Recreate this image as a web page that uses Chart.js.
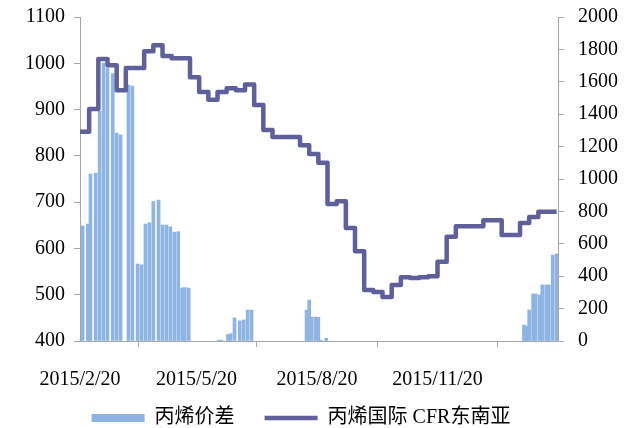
<!DOCTYPE html>
<html>
<head>
<meta charset="utf-8">
<script src="https://cdn.jsdelivr.net/npm/chart.js@4.4.0/dist/chart.umd.min.js"></script>
<style>
  html, body { margin: 0; padding: 0; background: #fff; }
  #chart { display: block; }
</style>
</head>
<body>
<canvas id="chart" width="638" height="428"></canvas>
<script>
// x axis: dates, ticks every 3 months
const startDate = '2015/2/20';
const xTickDates = ['2015/2/20', '2015/5/20', '2015/8/20', '2015/11/20', '2016/2/20'];
const xTickLabels = ['2015/2/20', '2015/5/20', '2015/8/20', '2015/11/20', ''];

// 丙烯国际 CFR东南亚, weekly from 2015/2/20 (left axis)
const lineName = '丙烯国际 CFR东南亚';
const lineValues = [852, 901, 1009, 996, 942, 990, 990, 1026, 1039, 1016, 1011, 1011,
  970, 938, 921, 938, 946, 942, 954, 910, 856, 841, 841, 841, 823, 804, 785,
  696, 702, 644, 594, 510, 506, 495, 521, 538, 536, 538, 540, 571, 625,
  648, 648, 648, 661, 661, 629, 629, 655, 668, 679, 679, 679];

// 丙烯价差 (right axis)
const barName = '丙烯价差';
const barDates = ['2015/2/22', '2015/2/26', '2015/2/28', '2015/3/4', '2015/3/7', '2015/3/10',
  '2015/3/13', '2015/3/17', '2015/3/20', '2015/3/23', '2015/3/29', '2015/4/1', '2015/4/5',
  '2015/4/8', '2015/4/11', '2015/4/14', '2015/4/17', '2015/4/21', '2015/4/24', '2015/4/27',
  '2015/4/30', '2015/5/3', '2015/5/6', '2015/5/9', '2015/5/11', '2015/5/14',
  '2015/6/6', '2015/6/8', '2015/6/13', '2015/6/15', '2015/6/18', '2015/6/22', '2015/6/25',
  '2015/6/28', '2015/7/1',
  '2015/8/12', '2015/8/14', '2015/8/16', '2015/8/19', '2015/8/21', '2015/8/23', '2015/8/27',
  '2016/1/25', '2016/1/27', '2016/1/29', '2016/2/1', '2016/2/3', '2016/2/6', '2016/2/8',
  '2016/2/11', '2016/2/13', '2016/2/16', '2016/2/19'];
const barValues = [710, 722, 1031, 1037, 1420, 1716,
  1685, 1650, 1284, 1272, 1580, 1574, 475,
  470, 722, 730, 860, 870, 716, 716,
  705, 672, 675, 327, 330, 327,
  5, 5, 40, 45, 142, 124, 130,
  191, 191,
  190, 253, 148, 148, 146, 5, 17,
  99, 93, 191, 290, 290, 284, 346,
  346, 346, 531, 537];

const leftMin = 400, leftMax = 1100, leftStep = 100;
const rightMin = 0, rightMax = 2000, rightStep = 200;

function dayOf(s) {
  const [y, m, d] = s.split('/').map(Number);
  const [y0, m0, d0] = startDate.split('/').map(Number);
  return Math.round((Date.UTC(y, m - 1, d) - Date.UTC(y0, m0 - 1, d0)) / 864e5);
}

const xTickDays = xTickDates.map(dayOf);
const endDay = xTickDays[xTickDays.length - 1];
const lineData = lineValues.map((v, i) => ({ x: Math.min(i * 7, endDay), y: v }));
const barData = barDates.map((d, i) => ({ x: dayOf(d), y: barValues[i] }));

const axisColor = '#a6a6a6';
const numFont = { family: "'Liberation Serif', 'Noto Sans CJK SC', serif", size: 20 };

// nudge the legend box to where the original one sits
const legendNudge = {
  id: 'legendNudge',
  afterLayout(chart) {
    const lg = chart.legend;
    lg.top -= 15;
    lg.left -= 18; lg.right -= 18;
  }
};

// y axes: keep the plot area where it is, labels may hang over it
function fitY(scale) {
  scale.width = 80;
  scale.paddingTop = 0;
  scale.paddingBottom = 0;
}

new Chart(document.getElementById('chart'), {
  data: {
    datasets: [
      {
        type: 'bar',
        label: barName,
        data: barData,
        yAxisID: 'y2',
        backgroundColor: '#8eb4e3',
        borderWidth: 0,
        barThickness: 3,
        order: 1
      },
      {
        type: 'line',
        label: lineName,
        data: lineData,
        yAxisID: 'y',
        borderColor: '#5f5f9c',
        backgroundColor: '#5f5f9c',
        borderWidth: 4.5,
        borderJoinStyle: 'round',
        pointRadius: 0,
        stepped: true,
        fill: false,
        order: 0
      }
    ]
  },
  plugins: [legendNudge],
  options: {
    responsive: false,
    animation: false,
    devicePixelRatio: 1,
    layout: { padding: { top: 17, right: 0, bottom: 0, left: 0 } },
    scales: {
      x: {
        type: 'linear',
        min: 0,
        max: endDay,
        offset: false,
        afterBuildTicks: (axis) => { axis.ticks = xTickDays.map(v => ({ value: v })); },
        afterFit: (scale) => { scale.height = 52; },
        ticks: {
          autoSkip: false,
          maxRotation: 0,
          padding: 21,
          color: '#000',
          font: numFont,
          callback: (v) => xTickLabels[xTickDays.indexOf(v)]
        },
        grid: { drawOnChartArea: false, drawTicks: true, tickLength: 6, color: axisColor },
        border: { display: true, color: axisColor, width: 1 }
      },
      y: {
        position: 'left',
        min: leftMin,
        max: leftMax,
        afterFit: fitY,
        ticks: { stepSize: leftStep, padding: 9, color: '#000', font: numFont, callback: (v) => String(v) },
        grid: { drawOnChartArea: false, drawTicks: true, tickLength: 6, color: axisColor },
        border: { display: true, color: axisColor, width: 1 }
      },
      y2: {
        position: 'right',
        min: rightMin,
        max: rightMax,
        afterFit: fitY,
        ticks: { stepSize: rightStep, padding: 14, color: '#000', font: numFont, callback: (v) => String(v) },
        grid: { drawOnChartArea: false, drawTicks: true, tickLength: 6, color: axisColor },
        border: { display: true, color: axisColor, width: 1 }
      }
    },
    plugins: {
      tooltip: { enabled: false },
      legend: {
        position: 'bottom',
        maxHeight: 35,
        labels: {
          usePointStyle: true,
          pointStyleWidth: 53,
          boxHeight: 8,
          padding: 30,
          color: '#000',
          font: numFont,
          generateLabels: (chart) => {
            const items = Chart.defaults.plugins.legend.labels.generateLabels(chart);
            items.forEach(it => {
              it.pointStyle = chart.data.datasets[it.datasetIndex].type === 'line' ? 'line' : 'rect';
            });
            return items.sort((a, b) => a.datasetIndex - b.datasetIndex);
          }
        }
      }
    }
  }
});
</script>
</body>
</html>
